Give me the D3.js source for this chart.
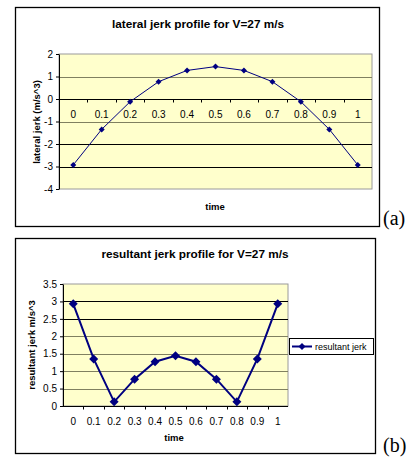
<!DOCTYPE html>
<html>
<head>
<meta charset="utf-8">
<script src="https://cdn.jsdelivr.net/npm/d3@7"></script>
<style>
  body { margin: 0; background: #fff; }
  svg { display: block; font-family: "Liberation Sans", Arial, sans-serif; }
</style>
</head>
<body>
<script>
// Data
const timeLabels = ["0", "0.1", "0.2", "0.3", "0.4", "0.5", "0.6", "0.7", "0.8", "0.9", "1"];
const lateralJerk = [-2.93, -1.35, -0.12, 0.77, 1.27, 1.44, 1.27, 0.77, -0.12, -1.35, -2.93];
const resultantJerk = [2.93, 1.35, 0.12, 0.77, 1.27, 1.44, 1.27, 0.77, 0.12, 1.35, 2.93];
const lateralTicks = [-4, -3, -2, -1, 0, 1, 2];
const resultantTicks = [0, 0.5, 1, 1.5, 2, 2.5, 3, 3.5];

const W = 415, H = 462;
const NAVY = "#000080";
const svg = d3.select("body").append("svg").attr("width", W).attr("height", H);

// diamond marker path centred on 0,0
function diamond(r) {
    return "M0," + (-r) + "L" + r + ",0L0," + r + "L" + (-r) + ",0Z";
}

function drawChart(opt) {
    const g = svg.append("g");

    // outer chart frame
    g.append("rect")
        .attr("x", opt.frame[0] + 0.5).attr("y", opt.frame[1] + 0.5)
        .attr("width", opt.frame[2] - opt.frame[0]).attr("height", opt.frame[3] - opt.frame[1])
        .attr("fill", "#fff").attr("stroke", "#000").attr("stroke-width", 1.3);

    const x = d3.scaleBand().domain(timeLabels).range([opt.plot[0], opt.plot[2]]);
    const y = d3.scaleLinear().domain(opt.yDomain).range([opt.plot[3], opt.plot[1]]);

    // plot area
    g.append("rect")
        .attr("x", opt.plot[0]).attr("y", opt.plot[1])
        .attr("width", opt.plot[2] - opt.plot[0]).attr("height", opt.plot[3] - opt.plot[1])
        .attr("fill", "#ffffcc").attr("stroke", "#9a9a9a").attr("stroke-width", 1);

    // gridlines
    g.selectAll(".grid")
        .data(opt.ticks.filter(t => t !== opt.yDomain[1] && t !== opt.yDomain[0]))
        .enter().append("line")
        .attr("x1", opt.plot[0]).attr("x2", opt.plot[2])
        .attr("y1", d => Math.round(y(d)) + 0.5).attr("y2", d => Math.round(y(d)) + 0.5)
        .attr("stroke", d => opt.gridColor(d)).attr("stroke-width", 1);

    // y axis
    const yAxis = d3.axisLeft(y).tickValues(opt.ticks).tickFormat(d => String(d))
        .tickSize(3).tickSizeOuter(0).tickPadding(3);
    const ya = g.append("g").attr("transform", "translate(" + opt.plot[0] + ",0)").call(yAxis);
    ya.select(".domain").attr("stroke", "#000");
    ya.selectAll("text").attr("font-size", 10).attr("fill", "#000")
        .attr("font-family", "'Liberation Sans', Arial, sans-serif");

    // x axis at baseline value, ticks between categories
    const base = Math.round(y(opt.xAxisAt)) + 0.5;
    g.append("line")
        .attr("x1", opt.plot[0]).attr("x2", opt.plot[2])
        .attr("y1", base).attr("y2", base).attr("stroke", "#000");
    g.selectAll(".xtick")
        .data(timeLabels.slice(1))
        .enter().append("line")
        .attr("x1", d => Math.round(x(d)) + 0.5).attr("x2", d => Math.round(x(d)) + 0.5)
        .attr("y1", base).attr("y2", base + 3).attr("stroke", "#000");
    g.selectAll(".xlabel")
        .data(timeLabels)
        .enter().append("text")
        .attr("x", d => x(d) + x.bandwidth() / 2)
        .attr("y", opt.xLabelY)
        .attr("text-anchor", "middle")
        .attr("font-size", 10)
        .text(d => d);

    // series line and markers
    const line = d3.line()
        .x((d, i) => x(timeLabels[i]) + x.bandwidth() / 2)
        .y(d => y(d));
    g.append("path")
        .datum(opt.values)
        .attr("d", line)
        .attr("fill", "none").attr("stroke", NAVY).attr("stroke-width", opt.lineWidth);
    g.selectAll(".mark")
        .data(opt.values)
        .enter().append("path")
        .attr("transform", (d, i) => "translate(" + (x(timeLabels[i]) + x.bandwidth() / 2) + "," + y(d) + ")")
        .attr("d", diamond(opt.markR))
        .attr("fill", NAVY);

    // titles
    g.append("text")
        .attr("x", opt.titlePos[0]).attr("y", opt.titlePos[1])
        .attr("text-anchor", "middle").attr("font-size", 11.8).attr("font-weight", "bold")
        .text(opt.title);
    g.append("text")
        .attr("transform", "translate(" + opt.yTitlePos[0] + "," + opt.yTitlePos[1] + ") rotate(-90)")
        .attr("text-anchor", "middle").attr("font-size", 9.5).attr("font-weight", "bold")
        .text(opt.yTitle);
    g.append("text")
        .attr("x", opt.xTitlePos[0]).attr("y", opt.xTitlePos[1])
        .attr("text-anchor", "middle").attr("font-size", 9.5).attr("font-weight", "bold")
        .text("time");

    // panel tag, (a) / (b)
    g.append("text")
        .attr("x", 383).attr("y", opt.frame[3] - 1)
        .attr("font-family", "'Liberation Serif', 'Times New Roman', serif")
        .attr("font-size", 20)
        .text(opt.tag);

    return { g, x, y };
}

drawChart({
    frame: [15, 7, 379, 226],
    plot: [59, 54, 372, 189],
    yDomain: [-4, 2],
    ticks: lateralTicks,
    xAxisAt: 0,
    xLabelY: 118,
    values: lateralJerk,
    lineWidth: 1,
    markR: 3,
    gridColor: d => (d >= -1 ? "#808060" : "#000"),
    title: "lateral jerk profile for V=27 m/s",
    titlePos: [198, 28],
    yTitle: "lateral jerk (m/s^3)",
    yTitlePos: [40, 122],
    xTitle: "time",
    xTitlePos: [215, 210],
    tag: "(a)"
});

const b = drawChart({
    frame: [15, 238, 375, 453],
    plot: [63, 284, 288, 406],
    yDomain: [0, 3.5],
    ticks: resultantTicks,
    xAxisAt: 0,
    xLabelY: 425,
    values: resultantJerk,
    lineWidth: 2,
    markR: 4.5,
    gridColor: d => (d >= 2.5 ? "#000" : "#808060"),
    title: "resultant jerk profile for V=27 m/s",
    titlePos: [195, 258],
    yTitle: "resultant jerk m/s^3",
    yTitlePos: [35, 345],
    xTitle: "time",
    xTitlePos: [174, 441],
    tag: "(b)"
});

// legend
const leg = b.g.append("g").attr("transform", "translate(289,338)");
leg.append("rect").attr("x", 0.5).attr("y", 0.5).attr("width", 84).attr("height", 16)
    .attr("fill", "#fff").attr("stroke", "#000").attr("stroke-width", 1);
leg.append("line").attr("x1", 3).attr("x2", 23).attr("y1", 8.5).attr("y2", 8.5)
    .attr("stroke", NAVY).attr("stroke-width", 2);
leg.append("path").attr("transform", "translate(13,8.5)").attr("d", diamond(3.5)).attr("fill", NAVY);
leg.append("text").attr("x", 26).attr("y", 12).attr("font-size", 9).text("resultant jerk");
</script>
</body>
</html>
